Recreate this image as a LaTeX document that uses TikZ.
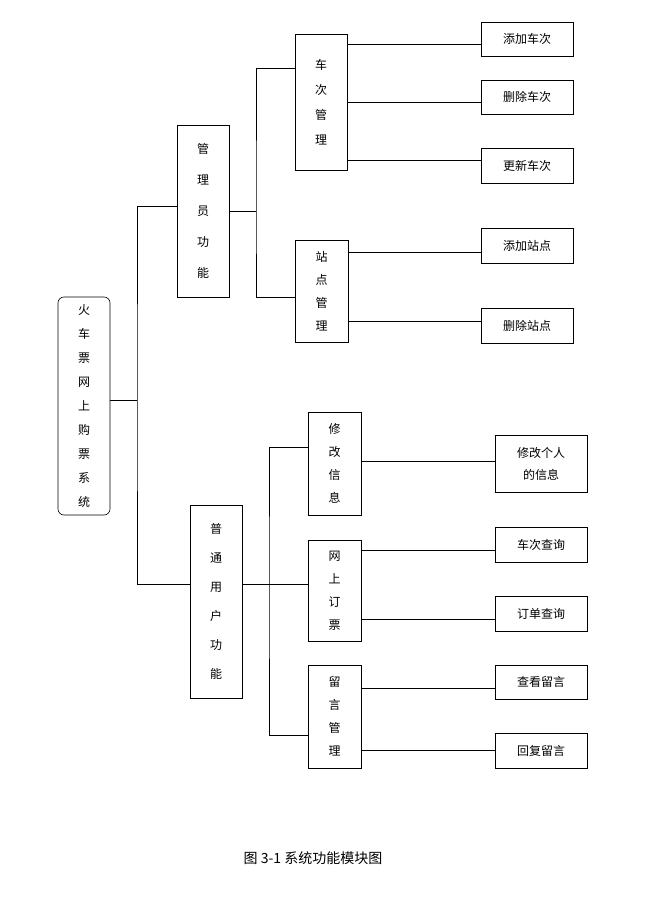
\documentclass[tikz,border=0pt]{standalone}
\usepackage{fontspec}
\setmainfont{Noto Sans CJK SC}
\begin{document}
\begin{tikzpicture}[x=1pt,y=-1pt,
  bx/.style={draw,line width=0.6pt,inner sep=0pt,font=\fontsize{12}{12}\selectfont},
  ln/.style={line width=0.6pt}]
\useasboundingbox[fill=white] (0,0) rectangle (649,909);
\newcommand{\bxat}[6]{\node[bx,minimum width={#4-#2},minimum height={#5-#3},align=center] (#1) at ({(#2+#4)/2},{(#3+#5)/2}) {#6};}
\node[bx,rounded corners=6pt,minimum width=52,minimum height=218,align=center,font=\fontsize{12}{24}\selectfont] (root) at (84,406) {火\\车\\票\\网\\上\\购\\票\\系\\统};
\node[bx,minimum width=52,minimum height=172,align=center,font=\fontsize{12}{31}\selectfont] (adm) at (203,211) {管\\理\\员\\功\\能};
\node[bx,minimum width=52,minimum height=193,align=center,font=\fontsize{12}{29}\selectfont] (usr) at (216,601.5) {普\\通\\用\\户\\功\\能};
\node[bx,minimum width=52,minimum height=136,align=center,font=\fontsize{12}{25}\selectfont] (cc) at (321,102) {车\\次\\管\\理};
\node[bx,minimum width=53,minimum height=102,align=center,font=\fontsize{12}{23}\selectfont] (zd) at (321.5,291) {站\\点\\管\\理};
\node[bx,minimum width=53,minimum height=103,align=center,font=\fontsize{12}{23}\selectfont] (xg) at (334.5,463.5) {修\\改\\信\\息};
\node[bx,minimum width=53,minimum height=101,align=center,font=\fontsize{12}{23}\selectfont] (wd) at (334.5,590.5) {网\\上\\订\\票};
\node[bx,minimum width=53,minimum height=103,align=center,font=\fontsize{12}{23}\selectfont] (ly) at (334.5,716.5) {留\\言\\管\\理};
\bxat{l1}{481}{22}{573}{56}{添加车次}
\bxat{l2}{481}{80}{573}{114}{删除车次}
\bxat{l3}{481}{148}{573}{183}{更新车次}
\bxat{l4}{481}{228}{573}{263}{添加站点}
\bxat{l5}{481}{308}{573}{343}{删除站点}
\node[bx,minimum width=92,minimum height=57,align=center,font=\fontsize{12}{22}\selectfont] (l6) at (541,463.5) {修改个人\\的信息};
\bxat{l7}{495}{527}{587}{562}{车次查询}
\bxat{l8}{495}{596}{587}{631}{订单查询}
\bxat{l9}{495}{665}{587}{699}{查看留言}
\bxat{l10}{495}{733}{587}{768}{回复留言}
% connectors
\coordinate (j1) at (137,400);
\draw[ln] (root.east |- j1) -- (j1);
\draw[ln] (adm.west |- 0,206) -| (j1) |- (usr.west |- 0,584);
\coordinate (j2) at (256,211);
\draw[ln] (adm.east |- j2) -- (j2);
\draw[ln] (cc.west |- 0,68) -| (j2) |- (zd.west |- 0,297);
\draw[ln] (cc.east |- 0,44) -- (l1.west |- 0,44);
\draw[ln] (cc.east |- 0,102) -- (l2.west |- 0,102);
\draw[ln] (cc.east |- 0,160) -- (l3.west |- 0,160);
\draw[ln] (zd.east |- 0,252) -- (l4.west |- 0,252);
\draw[ln] (zd.east |- 0,321) -- (l5.west |- 0,321);
\coordinate (j3) at (269,584);
\draw[ln] (usr.east |- j3) -- (wd.west |- j3);
\draw[ln] (xg.west |- 0,447) -| (j3) |- (ly.west |- 0,735);
\draw[ln] (xg.east |- 0,461) -- (l6.west |- 0,461);
\draw[ln] (wd.east |- 0,550) -- (l7.west |- 0,550);
\draw[ln] (wd.east |- 0,619) -- (l8.west |- 0,619);
\draw[ln] (ly.east |- 0,688) -- (l9.west |- 0,688);
\draw[ln] (ly.east |- 0,750) -- (l10.west |- 0,750);
\node[font=\fontsize{14}{14}\selectfont] (cap) at (313,858) {图 3-1 系统功能模块图};
\end{tikzpicture}
\end{document}
